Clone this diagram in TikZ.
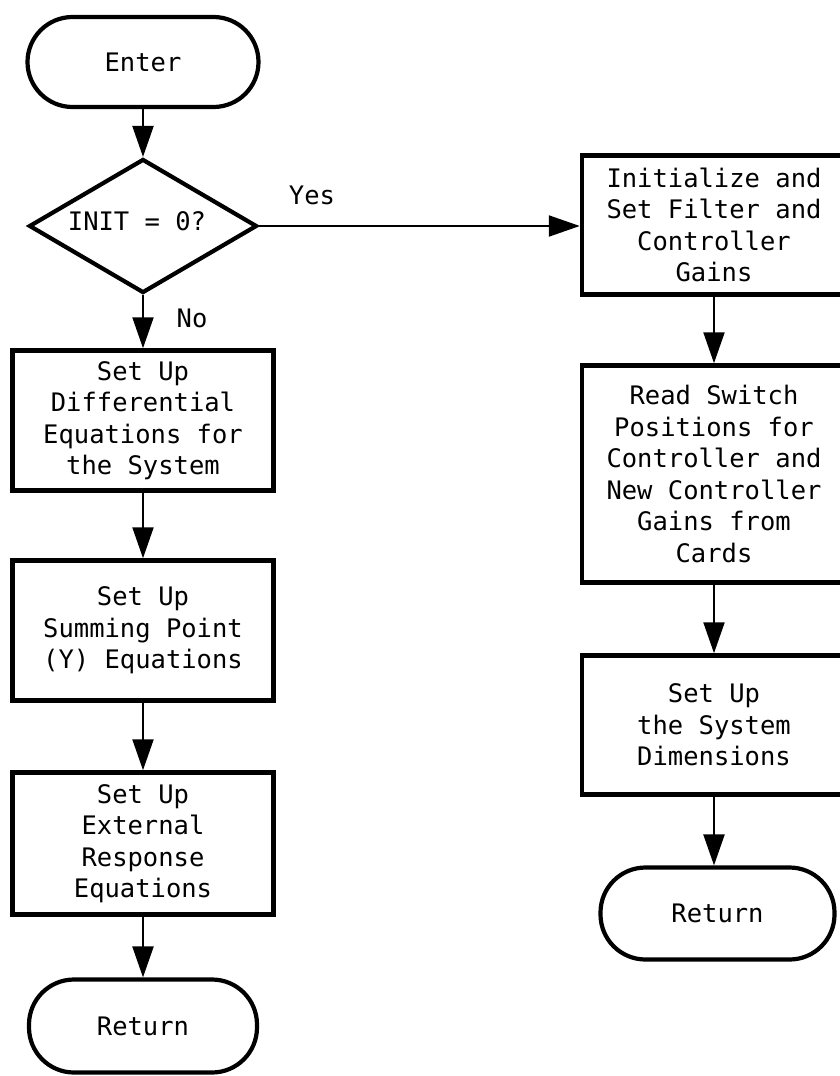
\documentclass[tikz,border=0pt]{standalone}
\usepackage{fontspec}
\newfontfamily\flowfont{DejaVu Sans Mono}
\usetikzlibrary{shapes.geometric,arrows.meta}
\tikzset{
  every node/.style={font=\flowfont\fontsize{25.5}{31.5}\selectfont},
  stepbox/.style={draw, line width=4.5pt, rectangle, inner sep=0pt, align=center},
  terminal/.style={draw, line width=4.2pt, rectangle, rounded corners=45pt, inner sep=0pt, align=center},
  decision/.style={draw, line width=4.2pt, diamond, inner sep=0pt},
  flow/.style={line width=2.2pt, -{Triangle[length=31pt,width=21pt]}},
  tag/.style={inner sep=0pt}
}
\begin{document}
\begin{tikzpicture}[x=1pt,y=-1pt]
\useasboundingbox (0,0) rectangle (839,1076);

% left column
\node[terminal, minimum width=231pt, minimum height=90pt] (enter) at (143,62) {Enter};
\node[decision, minimum width=228pt, minimum height=134pt] (dec) at (143,226) {};
\node[tag] (dectext) at (137,221) {INIT = 0?};
\node[stepbox, minimum width=261pt, minimum height=140pt] (diffeq) at (143,420.5)
  {Set Up\\Differential\\Equations for\\the System};
\node[stepbox, minimum width=261pt, minimum height=140pt] (sumpt) at (143,630.5)
  {Set Up\\Summing Point\\(Y) Equations};
\node[stepbox, minimum width=261pt, minimum height=142pt] (extresp) at (143,843.5)
  {Set Up\\External\\Response\\Equations};
\node[terminal, minimum width=228pt, minimum height=93pt] (retleft) at (143,1026) {Return};

% right column (boxes run past the right margin)
\node[stepbox, minimum width=264pt, minimum height=139pt] (init) at (714,225)
  {Initialize and\\Set Filter and\\Controller\\Gains};
\node[stepbox, minimum width=264pt, minimum height=217pt] (readsw) at (714,474)
  {Read Switch\\Positions for\\Controller and\\New Controller\\Gains from\\Cards};
\node[stepbox, minimum width=264pt, minimum height=139pt] (dims) at (714,725)
  {Set Up\\the System\\Dimensions};
\node[terminal, minimum width=234pt, minimum height=92pt] (retright) at (717.5,913.5) {Return};

% branch labels
\node[tag] (yes) at (312,195) {Yes};
\node[tag] (no) at (192,318) {No};

% connectors
\draw[flow] (enter.south) -- (dec.north);
\draw[flow] (dec.south) -- (diffeq.north);
\draw[flow] (diffeq.south) -- (sumpt.north);
\draw[flow] (sumpt.south) -- (extresp.north);
\draw[flow] (extresp.south) -- (retleft.north);
\draw[flow] (dec.east) -- (dec.east -| init.west);
\draw[flow] (init.south) -- (readsw.north);
\draw[flow] (readsw.south) -- (dims.north);
\draw[flow] (dims.south) -- (dims.south |- retright.north);
\end{tikzpicture}
\end{document}
